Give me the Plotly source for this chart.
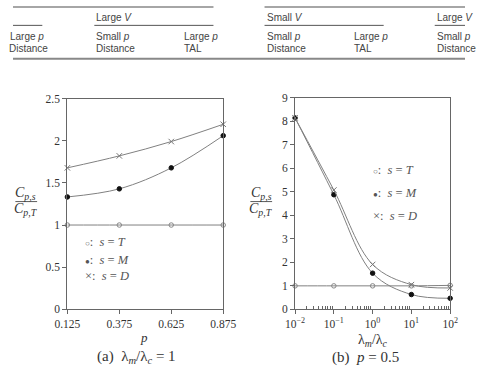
import plotly.graph_objects as go

W, H = 478, 377

# ---- data ----
p_vals = [0.125, 0.375, 0.625, 0.875]
a_T = [1.0, 1.0, 1.0, 1.0]
a_M = [1.333, 1.429, 1.678, 2.06]
a_D = [1.678, 1.82, 1.99, 2.195]

lam_ratio = [0.01, 0.1, 1, 10, 100]
b_T = [1.0, 1.0, 1.0, 1.0, 1.02]
b_M = [8.15, 4.88, 1.54, 0.63, 0.47]
b_D = [8.15, 5.08, 1.91, 1.05, 0.91]

a_xticks = [0.125, 0.375, 0.625, 0.875]
a_yticks = [0, 0.5, 1, 1.5, 2, 2.5]
b_xticks = [0.01, 0.1, 1, 10, 100]
b_xticklabels = ["10<sup>−2</sup>", "10<sup>−1</sup>", "10<sup>0</sup>", "10<sup>1</sup>", "10<sup>2</sup>"]
b_yticks = list(range(0, 10))

header_groups = ["Large <i>V</i>", "Small <i>V</i>", "Large <i>V</i>"]
row1 = ["Large <i>p</i>", "Small <i>p</i>", "Large <i>p</i>", "Small <i>p</i>", "Large <i>p</i>", "Small <i>p</i>"]
row2 = ["Distance", "Distance", "TAL", "Distance", "TAL", "Distance"]


def px(x):
    return x / W


def py(y):
    return 1 - y / H


LINE = "#808080"
AX = "#666666"
SERIF = "Liberation Serif, serif"
SANS = "Liberation Sans, sans-serif"

fig = go.Figure()


def add_series(x, y, xa, ya, symbol, color, fill, size):
    fig.add_trace(go.Scatter(
        x=x, y=y, xaxis=xa, yaxis=ya, mode="lines+markers",
        line=dict(color=LINE, width=1, shape="spline", smoothing=1.0),
        marker=dict(symbol=symbol, size=size, color=fill,
                    line=dict(color=color, width=1)),
        cliponaxis=False, showlegend=False, hoverinfo="skip"))


add_series(p_vals, a_T, "x", "y", "circle-open", "#888", "#888", 4.5)
add_series(p_vals, a_M, "x", "y", "circle", "#111", "#111", 4.5)
add_series(p_vals, a_D, "x", "y", "x-thin-open", "#777", "#777", 5.5)

add_series(lam_ratio, b_T, "x2", "y2", "circle-open", "#888", "#888", 4.5)
add_series(lam_ratio, b_M, "x2", "y2", "circle", "#111", "#111", 4.5)
add_series(lam_ratio, b_D, "x2", "y2", "x-thin-open", "#777", "#777", 5.5)

tickfont = dict(family=SERIF, size=11.5, color="#333")
common = dict(showline=True, linecolor=AX, linewidth=1.2, mirror=True,
              showgrid=False, zeroline=False, ticks="outside", ticklen=4,
              tickcolor=AX, tickfont=tickfont)

fig.update_layout(
    width=W, height=H, margin=dict(l=0, r=0, t=0, b=0),
    paper_bgcolor="white", plot_bgcolor="white",
    xaxis=dict(domain=[px(57.5), px(222.3)], range=[0.125, 0.875],
               tickvals=a_xticks, ticktext=[f"{v:.3f}" for v in a_xticks],
               anchor="y", **common),
    yaxis=dict(domain=[py(313.3), py(95.6)], range=[0, 2.5],
               tickvals=a_yticks, ticktext=[f"{v:g}" for v in a_yticks],
               anchor="x", **common),
    xaxis2=dict(domain=[px(298.3), px(462.3)], type="log", range=[-2, 2],
                tickvals=b_xticks, ticktext=b_xticklabels, anchor="y2",
                minor=dict(ticks="inside", ticklen=3, tickcolor=AX,
                           tickvals=[m * 10 ** k for k in range(-2, 2) for m in range(2, 10)]),
                **common),
    yaxis2=dict(domain=[py(313.3), py(95.0)], range=[0, 9],
                tickvals=b_yticks, anchor="x2", **common),
)

ann = []
shapes = []

# ---- table fragment ----
TC = "#444"
tf = dict(family=SANS, size=10, color=TC)
for x0, x1 in [(0, 212), (266, 478)]:
    shapes.append(dict(type="line", xref="paper", yref="paper", x0=px(x0), x1=px(x1),
                       y0=py(1), y1=py(1), line=dict(color="#888", width=1.5)))
for x0, x1 in [(0, 31), (86, 212), (266, 392), (446, 478)]:
    shapes.append(dict(type="line", xref="paper", yref="paper", x0=px(x0), x1=px(x1),
                       y0=py(20), y1=py(20), line=dict(color="#555", width=1)))
shapes.append(dict(type="line", xref="paper", yref="paper", x0=0, x1=1,
                   y0=py(54.5), y1=py(54.5), line=dict(color="#888", width=1.8)))
for txt, x in zip(header_groups, [86, 266, 446]):
    ann.append(dict(text=txt, x=px(x), y=py(12), xanchor="left", yanchor="middle", font=tf))
for t1, t2, x in zip(row1, row2, [-5, 86, 179, 266, 358, 446]):
    ann.append(dict(text=t1, x=px(x), y=py(31), xanchor="left", yanchor="middle", font=tf))
    ann.append(dict(text=t2, x=px(x - (1 if t2 == "Distance" and x < 0 else 0)), y=py(43.5),
                    xanchor="left", yanchor="middle", font=tf))

# ---- y-axis fraction labels ----
ff = dict(family=SERIF, size=14, color="#333")
for cx, x0, x1 in [(13.5, 2.5, 25.5), (262.5, 251, 274)]:
    ann.append(dict(text="<i>C</i><sub><i>p,s</i></sub>", x=px(cx), y=py(194), xanchor="center",
                    yanchor="middle", font=ff))
    ann.append(dict(text="<i>C</i><sub><i>p,T</i></sub>", x=px(cx), y=py(210), xanchor="center",
                    yanchor="middle", font=ff))
    shapes.append(dict(type="line", xref="paper", yref="paper", x0=px(x0), x1=px(x1),
                       y0=py(202), y1=py(202), line=dict(color="#333", width=0.8)))

# ---- legends ----
lf = dict(family=SERIF, size=12.5, color="#555")
leg = [("<span style='font-size:8px'>○</span>", "<i>s</i> = <i>T</i>"),
       ("<span style='font-size:8px'>●</span>", "<i>s</i> = <i>M</i>"),
       ("×", "<i>s</i> = <i>D</i>")]
for (sym, lab), y in zip(leg, [244, 262, 279]):
    ann.append(dict(text=f"{sym}:  {lab}", x=px(74), y=py(y), xanchor="left", yanchor="middle", font=lf))
for (sym, lab), y in zip(leg, [169, 193, 217]):
    ann.append(dict(text=f"{sym}:  {lab}", x=px(379), y=py(y), xanchor="left", yanchor="middle", font=lf))

# ---- axis titles and captions ----
ann.append(dict(text="<i>p</i>", x=px(139), y=py(342), xanchor="center", yanchor="middle",
                font=dict(family=SERIF, size=13, color="#333")))
ann.append(dict(text="λ<sub><i>m</i></sub>/λ<sub><i>c</i></sub>", x=px(381), y=py(346),
                xanchor="center", yanchor="middle", font=dict(family=SERIF, size=14, color="#333")))
ann.append(dict(text="(a)  λ<sub><i>m</i></sub>/λ<sub><i>c</i></sub> = 1", x=px(131), y=py(363),
                xanchor="center", yanchor="middle", font=dict(family=SERIF, size=15, color="#333")))
ann.append(dict(text="(b)  <i>p</i> = 0.5", x=px(373), y=py(363),
                xanchor="center", yanchor="middle", font=dict(family=SERIF, size=15, color="#333")))

for a in ann:
    a.update(xref="paper", yref="paper", showarrow=False)

fig.update_layout(annotations=ann, shapes=shapes)
fig.write_html("out.html")
